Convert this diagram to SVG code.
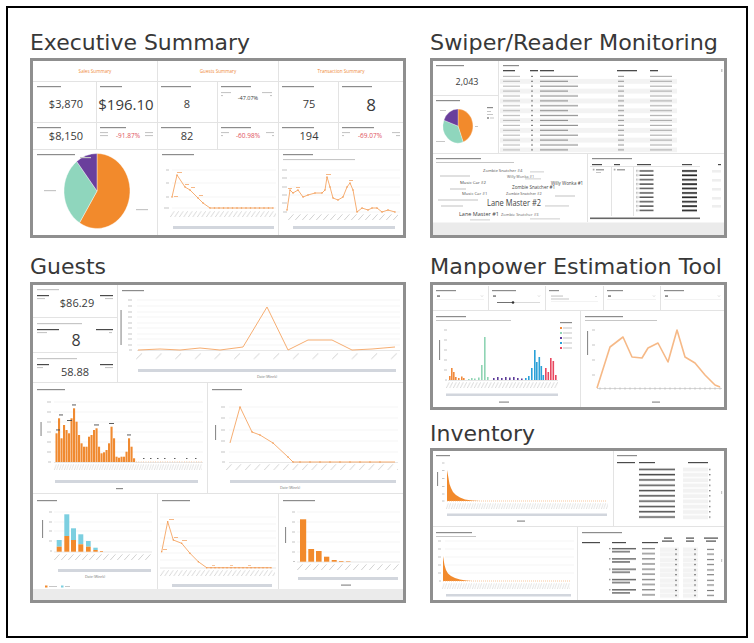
<svg xmlns="http://www.w3.org/2000/svg" width="754" height="643" viewBox="0 0 754 643">
<defs>
<style>
.title{font-family:"DejaVu Sans","Liberation Sans",sans-serif;font-size:22px;fill:#383838}
.frame{fill:#fff;stroke:#8f8f8f;stroke-width:3}
.dv{stroke:#e3e3e3;stroke-width:1;fill:none}
.t{fill:#c6c6c6}
.tl{fill:#e0e0e0}
.td{fill:#8c8c8c}
.tk{fill:#4a4a4a}
.num{font-family:"Open Sans","Liberation Sans",sans-serif;fill:#3a3a3a;text-anchor:middle}
.red{font-family:"Open Sans","Liberation Sans",sans-serif;fill:#e0535c;text-anchor:middle;font-size:6.5px}
.hdr{font-family:"Open Sans","Liberation Sans",sans-serif;font-size:4.6px;fill:#ef8a3a;text-anchor:middle}
.sm{font-family:"Open Sans","Liberation Sans",sans-serif;font-size:3.6px;fill:#777}
.ln{fill:none;stroke:#f5a563;stroke-width:0.9;stroke-linejoin:round}
.gr{stroke:#efefef;stroke-width:0.6;fill:none}
.ax{stroke:#d6d6d6;stroke-width:0.6;fill:none}
.sb{fill:#d2d6dd}
.band{fill:#ebebeb}
.o{fill:#f28a2c}
.c{fill:#7ccfe0}
.wc{font-family:"Open Sans","Liberation Sans",sans-serif}
</style>
<marker id="dt" markerUnits="userSpaceOnUse" markerWidth="3" markerHeight="3" refX="1.5" refY="1.5"><circle cx="1.5" cy="1.5" r="0.75" fill="#f39a52"/></marker>
<pattern id="s3" patternUnits="userSpaceOnUse" width="2.5" height="30"><path d="M2.2 0.3L0.3 6" stroke="#c4c4c4" stroke-width="0.5"/></pattern>
<pattern id="s4" patternUnits="userSpaceOnUse" width="3.5" height="30"><path d="M3.2 0.3L0.3 6" stroke="#bdbdbd" stroke-width="0.6"/></pattern>
<pattern id="s5" patternUnits="userSpaceOnUse" width="4.5" height="30"><path d="M4.2 0.3L0.3 6" stroke="#bdbdbd" stroke-width="0.6"/></pattern>
<pattern id="s7" patternUnits="userSpaceOnUse" width="7" height="30"><path d="M5.5 0.3L0.3 6" stroke="#bdbdbd" stroke-width="0.7"/></pattern>
<pattern id="s8" patternUnits="userSpaceOnUse" width="8" height="30"><path d="M5.5 0.3L0.3 6" stroke="#bdbdbd" stroke-width="0.7"/></pattern>
<pattern id="s10" patternUnits="userSpaceOnUse" width="9.5" height="30"><path d="M5.5 0.3L0.3 6" stroke="#bdbdbd" stroke-width="0.7"/></pattern>
<pattern id="s20" patternUnits="userSpaceOnUse" width="19.6" height="30"><path d="M6 0.3L0.3 6" stroke="#bdbdbd" stroke-width="0.7"/></pattern>
<pattern id="swr" patternUnits="userSpaceOnUse" width="177" height="9.8">
<rect y="4.9" width="177" height="4.9" fill="#f3f3f3"/>
<rect x="3" y="1.8" width="17" height="1.1" fill="#b8b8b8"/><rect x="31" y="1.8" width="2" height="1.1" fill="#777"/><rect x="40" y="1.8" width="38" height="1.1" fill="#8a8a8a"/><rect x="118" y="1.8" width="6" height="1.1" fill="#999"/><rect x="150" y="1.8" width="22" height="1.1" fill="#aaa"/>
<rect x="3" y="6.7" width="17" height="1.1" fill="#b8b8b8"/><rect x="31" y="6.7" width="2" height="1.1" fill="#777"/><rect x="40" y="6.7" width="28" height="1.1" fill="#8a8a8a"/><rect x="118" y="6.7" width="6" height="1.1" fill="#999"/><rect x="150" y="6.7" width="22" height="1.1" fill="#aaa"/>
</pattern>
<pattern id="sdt" patternUnits="userSpaceOnUse" width="136" height="4.4">
<rect x="48.5" y="1" width="1.6" height="1.6" fill="none" stroke="#999" stroke-width="0.4"/><rect x="51.5" y="1.2" width="14" height="1.4" fill="#4a4a4a"/><rect x="94" y="1.1" width="15" height="1.7" fill="#222"/>
</pattern>
<pattern id="itr" patternUnits="userSpaceOnUse" width="110" height="5.3">
<rect x="25" y="1.6" width="36" height="1.5" fill="#4d4d4d"/><rect x="69" y="0.6" width="25" height="4" fill="#f2f2f2"/><rect x="95" y="1.8" width="1.5" height="1.2" fill="#777"/>
</pattern>
<pattern id="ibr" patternUnits="userSpaceOnUse" width="146" height="10.3">
<rect x="31" y="1" width="1.5" height="1.2" fill="#888"/><rect x="34" y="1" width="24" height="1.3" fill="#555"/><rect x="34" y="4" width="18" height="1.3" fill="#555"/>
<rect x="64" y="1" width="13" height="1.2" fill="#777"/><rect x="64" y="6" width="13" height="1.2" fill="#777"/>
<rect x="82" y="0.5" width="19" height="4.3" fill="#f3f3f3"/><rect x="82" y="5.3" width="19" height="4.3" fill="#f3f3f3"/><rect x="97" y="1.8" width="2" height="1.1" fill="#777"/><rect x="97" y="6.6" width="2" height="1.1" fill="#777"/>
<rect x="105" y="0.5" width="15" height="4.3" fill="#f3f3f3"/><rect x="105" y="5.3" width="15" height="4.3" fill="#f3f3f3"/><rect x="116" y="1.8" width="2" height="1.1" fill="#777"/><rect x="116" y="6.6" width="2" height="1.1" fill="#777"/>
<rect x="129" y="1.8" width="7" height="1.1" fill="#777"/><rect x="129" y="6.6" width="7" height="1.1" fill="#777"/>
</pattern>
</defs>

<rect width="754" height="643" fill="#fff"/>
<rect x="7" y="7" width="740" height="630" fill="none" stroke="#000" stroke-width="2"/>

<!-- EXECUTIVE SUMMARY -->
<g id="executive-summary">
<text class="title" x="30" y="50" textLength="220" lengthAdjust="spacingAndGlyphs">Executive Summary</text>
<rect class="frame" x="31.5" y="59.5" width="373" height="177"/>
<path class="dv" d="M33 81.5H403M33 122.5H403M33 149.5H403M157.5 61V235M278.5 61V235M96.5 82V149M217.5 82V149M338.5 82V149"/>
<text class="hdr" x="95" y="73">Sales Summary</text>
<text class="hdr" x="218" y="73">Guests Summary</text>
<text class="hdr" x="341" y="73">Transaction Summary</text>
<g class="td">
<rect x="37" y="86" width="24" height="1.2"/><rect x="100" y="86" width="22" height="1.2"/><rect x="161" y="86" width="30" height="1.2"/><rect x="221" y="86" width="30" height="1.2"/><rect x="282" y="86" width="32" height="1.2"/><rect x="342" y="86" width="30" height="1.2"/>
<rect x="37" y="127" width="24" height="1.2"/><rect x="100" y="127" width="26" height="1.2"/><rect x="161" y="127" width="30" height="1.2"/><rect x="221" y="127" width="30" height="1.2"/><rect x="282" y="127" width="32" height="1.2"/><rect x="342" y="127" width="32" height="1.2"/>
</g>
<g class="t">
<rect x="221" y="92" width="10" height="1.1"/><rect x="221" y="95" width="2" height="1.1"/><rect x="262" y="92" width="10" height="1.1"/><rect x="270" y="95" width="2" height="1.1"/>
<rect x="100" y="132" width="8" height="1.1"/><rect x="100" y="135" width="8" height="1.1"/><rect x="145" y="132" width="8" height="1.1"/><rect x="145" y="135" width="8" height="1.1"/>
<rect x="221" y="132" width="8" height="1.1"/><rect x="221" y="135" width="2" height="1.1"/><rect x="266" y="132" width="8" height="1.1"/><rect x="272" y="135" width="2" height="1.1"/>
<rect x="342" y="132" width="8" height="1.1"/><rect x="342" y="135" width="2" height="1.1"/><rect x="392" y="132" width="8" height="1.1"/><rect x="396" y="135" width="4" height="1.1"/>
</g>
<text class="num" x="66" y="108" font-size="11">$3,870</text>
<text class="num" x="126" y="110" font-size="15">$196.10</text>
<text class="num" x="187" y="108" font-size="11">8</text>
<text class="num" x="248" y="100" font-size="5.5" fill="#555">-47.07%</text>
<text class="num" x="309" y="108" font-size="11">75</text>
<text class="num" x="371" y="111" font-size="17">8</text>
<text class="num" x="66" y="140" font-size="11">$8,150</text>
<text class="red" x="128" y="138">-91.87%</text>
<text class="num" x="187" y="140" font-size="11">82</text>
<text class="red" x="248" y="138">-60.98%</text>
<text class="num" x="309" y="140" font-size="11">194</text>
<text class="red" x="370" y="138">-69.07%</text>
<!-- pie -->
<rect class="td" x="37" y="154" width="38" height="1.2"/>
<path d="M97 191L97 153.5A33 37.5 0 1 1 79.5 222.8Z" fill="#f28a2c" stroke="#fff" stroke-width="0.4"/>
<path d="M97 191L79.5 222.8A33 37.5 0 0 1 76.7 161.4Z" fill="#8fd6bd" stroke="#fff" stroke-width="0.4"/>
<path d="M97 191L76.7 161.4A33 37.5 0 0 1 97 153.5Z" fill="#6a3f9c" stroke="#fff" stroke-width="0.4"/>
<g class="t"><rect x="80" y="157" width="11" height="1.2"/><rect x="44" y="190" width="12" height="1.2"/><rect x="136" y="209" width="12" height="1.2"/></g>
<!-- chart 2 -->
<rect class="td" x="162" y="154" width="32" height="1.2"/>
<path class="gr" d="M172 170H276M172 183H276M172 197H276M172 208H276"/>
<g class="t"><rect x="166" y="169.5" width="3" height="1"/><rect x="166" y="182.5" width="3" height="1"/><rect x="166" y="196.5" width="3" height="1"/><rect x="164" y="207.5" width="5" height="1"/></g>
<polyline class="ln" marker-start="url(#dt)" marker-mid="url(#dt)" marker-end="url(#dt)" points="172,197 177,175 185,187 190,190 198,198 203,203 210,208 214.5,208 219,208 223.5,208 228,208 232.5,208 237,208 241.5,208 246,208 250.5,208 255,208 259.5,208 264,208 268.5,208 273,208"/>
<g fill="#f6b887"><rect x="174" y="196" width="4" height="1"/><rect x="177" y="172" width="5" height="1"/><rect x="185" y="184" width="4" height="1"/><rect x="191" y="187" width="4" height="1"/><rect x="199" y="195" width="4" height="1"/></g>
<rect x="0" y="0" width="106" height="8" fill="url(#s5)" transform="translate(170,211)"/>
<rect class="sb" x="173" y="226" width="101" height="3"/>
<!-- chart 3 -->
<rect class="td" x="283" y="154" width="30" height="1.2"/>
<rect class="t" x="283" y="159" width="72" height="1.1"/>
<path class="gr" d="M290 170H400M290 178H400M290 187H400M290 195H400M290 203H400M290 212H400"/>
<g class="t"><rect x="282" y="169.5" width="5" height="1"/><rect x="282" y="177.5" width="5" height="1"/><rect x="282" y="186.5" width="5" height="1"/><rect x="282" y="194.5" width="5" height="1"/><rect x="282" y="202.5" width="5" height="1"/><rect x="283" y="211.5" width="4" height="1"/></g>
<polyline class="ln" marker-start="url(#dt)" marker-mid="url(#dt)" marker-end="url(#dt)" points="287,210 290,190 293,193 298,190 303,197 308,195 315,193 322,193 325,190 327,177 330,187 333,198 338,200 343,197 347,187 350,183 353,190 357,212 362,208 368,210 372,208 377,208 382,212 388,210 395,212"/>
<g fill="#f6b887"><rect x="288" y="188" width="4" height="1"/><rect x="326" y="174" width="5" height="1"/><rect x="349" y="180" width="4" height="1"/><rect x="296" y="187" width="4" height="1"/></g>
<rect x="0" y="0" width="110" height="8" fill="url(#s7)" transform="translate(288,214)"/>
<rect class="sb" x="293" y="226" width="102" height="3"/>
</g>

<!-- SWIPER / READER MONITORING -->
<g id="swiper-reader-monitoring">
<text class="title" x="430" y="50" textLength="288" lengthAdjust="spacingAndGlyphs">Swiper/Reader Monitoring</text>
<rect class="frame" x="431.5" y="59.5" width="294" height="177"/>
<path class="dv" d="M498.5 61V153M433 95.5H498M433 153.5H724M587.5 154V222"/>
<rect class="td" x="436" y="65" width="28" height="1.2"/>
<text class="num" x="467" y="85" font-size="9">2,043</text>
<rect class="td" x="436" y="100" width="24" height="1.2"/>
<path d="M458 126L458 109A15 17 0 0 1 463.13 141.97Z" fill="#f28a2c" stroke="#fff" stroke-width="0.3"/>
<path d="M458 126L463.13 141.97A15 17 0 0 1 443.9 120.19Z" fill="#8fd6bd" stroke="#fff" stroke-width="0.3"/>
<path d="M458 126L443.9 120.19A15 17 0 0 1 458 109Z" fill="#6a3f9c" stroke="#fff" stroke-width="0.3"/>
<g class="t"><rect x="440" y="110" width="6" height="1"/><rect x="436" y="141" width="9" height="1"/><rect x="475" y="126" width="3" height="1"/></g>
<g><rect class="td" x="487" y="107" width="6" height="1.2"/><rect class="t" x="487" y="111" width="4" height="1"/><rect class="t" x="487" y="114" width="6" height="1"/><rect class="tk" x="487" y="117.5" width="2" height="1"/><rect class="t" x="490" y="117.5" width="4" height="1"/></g>
<rect class="td" x="503" y="65" width="16" height="1.2"/>
<g class="tk"><rect x="503" y="70" width="12" height="1.3"/><rect x="530" y="70" width="8" height="1.3"/><rect x="540" y="70" width="14" height="1.3"/><rect x="617" y="70" width="20" height="1.3"/><rect x="650" y="70" width="8" height="1.3"/></g>
<rect class="t" x="721" y="69" width="1.5" height="3"/>
<rect x="0" y="0" width="177" height="78.4" fill="url(#swr)" transform="translate(500,74)"/>
<!-- word cloud -->
<rect class="td" x="436" y="158" width="45" height="1.2"/>
<rect class="t" x="436" y="162" width="78" height="1"/>
<g class="tl"><rect x="440" y="175" width="30" height="2"/><rect x="450" y="188" width="16" height="2"/><rect x="438" y="199" width="40" height="2"/><rect x="441" y="205" width="22" height="2"/><rect x="530" y="171" width="14" height="1.6"/><rect x="555" y="195" width="20" height="2"/><rect x="545" y="205" width="24" height="1.8"/><rect x="530" y="218" width="30" height="1.6"/><rect x="470" y="219" width="20" height="1.6"/><rect x="525" y="178" width="16" height="1.6"/></g>
<text class="wc" x="483" y="172" font-size="4.2" fill="#555">Zombie Snatcher #4</text>
<text class="wc" x="507" y="178" font-size="3.8" fill="#666">Willy Wonka #1</text>
<text class="wc" x="460" y="184" font-size="4.3" fill="#444">Music Car #2</text>
<text class="wc" x="551" y="184.5" font-size="4.5" fill="#444">Willy Wonka #1</text>
<text class="wc" x="512" y="189" font-size="4.6" fill="#444">Zombie Snatcher #1</text>
<text class="wc" x="462" y="195" font-size="4.2" fill="#555">Music Car #1</text>
<text class="wc" x="506" y="195" font-size="3.8" fill="#555">Zombie Snatcher #2</text>
<text class="wc" x="487" y="206" font-size="9" fill="#444" textLength="54" lengthAdjust="spacingAndGlyphs">Lane Master #2</text>
<text class="wc" x="459" y="215.5" font-size="5.5" fill="#444">Lane Master #1</text>
<text class="wc" x="501" y="215.5" font-size="4" fill="#666">Zombie Snatcher #3</text>
<!-- daily summary -->
<rect class="td" x="592" y="158" width="40" height="1.2"/>
<g class="tk"><rect x="592" y="164" width="10" height="1.2"/><rect x="614" y="164" width="6" height="1.2"/><rect x="637" y="164" width="14" height="1.2"/><rect x="682" y="164" width="10" height="1.2"/><rect x="718" y="164" width="3" height="1.2"/></g>
<path class="dv" d="M590 166.5H700" stroke-width="0.6"/>
<rect x="593" y="169" width="1.6" height="1.6" fill="none" stroke="#999" stroke-width="0.4"/><rect class="td" x="596" y="169.2" width="8" height="1.2"/><rect class="t" x="596" y="172" width="5" height="1"/>
<rect x="614" y="169" width="1.6" height="1.6" fill="none" stroke="#999" stroke-width="0.4"/><rect class="td" x="617" y="169.2" width="8" height="1.2"/>
<path class="dv" d="M611.5 167V216M633.5 167V216" stroke-width="0.5"/>
<rect x="0" y="0" width="136" height="44" fill="url(#sdt)" transform="translate(588,169)"/>
<g fill="#eeeeee"><rect x="712" y="170" width="9" height="2.6"/><rect x="712" y="179" width="9" height="2.6"/><rect x="712" y="188" width="9" height="2.6"/><rect x="712" y="197" width="9" height="2.6"/><rect x="712" y="205" width="9" height="2.6"/></g>
<rect x="590" y="217.5" width="110" height="1.6" fill="#666"/>
<rect class="band" x="433" y="222.5" width="291" height="12.5"/>
</g>

<!-- GUESTS -->
<g id="guests">
<text class="title" x="30" y="274" textLength="76" lengthAdjust="spacingAndGlyphs">Guests</text>
<rect class="frame" x="31.5" y="283.5" width="373" height="318"/>
<path class="dv" d="M117.5 285V382M33 317.5H117M33 352.5H117M33 382.5H403M207.5 383V493M33 493.5H403M157.5 494V589M278.5 494V589"/>
<!-- KPIs -->
<rect class="t" x="37" y="289" width="22" height="1.2"/>
<rect class="tk" x="37" y="295" width="12" height="1.2"/><rect class="t" x="37" y="298" width="8" height="1.1"/>
<rect class="tk" x="100" y="295" width="13" height="1.2"/><rect class="t" x="105" y="298" width="8" height="1.1"/>
<text class="num" x="77" y="307" font-size="11">$86.29</text>
<rect class="t" x="37" y="323" width="45" height="1.2"/>
<rect class="tk" x="37" y="329" width="22" height="1.2"/><rect class="t" x="37" y="332" width="10" height="1.1"/>
<rect class="tk" x="96" y="329" width="17" height="1.2"/><rect class="t" x="109" y="332" width="3" height="1.1"/>
<text class="num" x="76" y="346" font-size="16">8</text>
<rect class="t" x="37" y="358" width="40" height="1.2"/>
<rect class="tk" x="37" y="364" width="12" height="1.2"/><rect class="t" x="37" y="367" width="6" height="1.1"/>
<rect class="tk" x="100" y="364" width="13" height="1.2"/><rect class="t" x="105" y="367" width="8" height="1.1"/>
<text class="num" x="75" y="376" font-size="11">58.88</text>
<!-- average spend -->
<rect class="td" x="122" y="290" width="22" height="1.2"/>
<path class="gr" d="M137 300H400M137 306H400M137 312H400M137 317H400M137 323H400M137 328H400M137 334H400M137 339H400M137 345H400"/>
<path class="ax" d="M137 350.5H400"/>
<g class="t"><rect x="128" y="299.5" width="4" height="1"/><rect x="128" y="305.5" width="4" height="1"/><rect x="128" y="311.5" width="4" height="1"/><rect x="128" y="316.5" width="4" height="1"/><rect x="128" y="322.5" width="4" height="1"/><rect x="128" y="327.5" width="4" height="1"/><rect x="128" y="333.5" width="4" height="1"/><rect x="128" y="338.5" width="4" height="1"/><rect x="128" y="344.5" width="4" height="1"/><rect x="129" y="349.5" width="3" height="1"/></g>
<rect class="td" x="120.5" y="310" width="1.1" height="35"/>
<polyline class="ln" points="138,350 160,349 180,350 200,348 220,350 243,347 267,307 288,350 308,340 332,340 352,350 372,349 395,347" stroke-width="1"/>
<rect x="0" y="0" width="262" height="8" fill="url(#s20)" transform="translate(136,353)"/>
<rect class="sb" x="138" y="369" width="258" height="3"/>
<text class="sm" x="267" y="378" text-anchor="middle">Date (Week)</text>
<!-- attendance tracker -->
<rect class="td" x="37" y="389" width="28" height="1.2"/>
<path class="gr" d="M54 402H203M54 412H203M54 422H203M54 432H203M54 442H203M54 452H203"/>
<path class="ax" d="M54 462.5H203"/>
<g class="t"><rect x="47" y="401.5" width="4" height="1"/><rect x="47" y="411.5" width="4" height="1"/><rect x="47" y="421.5" width="4" height="1"/><rect x="47" y="431.5" width="4" height="1"/><rect x="47" y="441.5" width="4" height="1"/><rect x="47" y="451.5" width="4" height="1"/><rect x="48" y="461.5" width="3" height="1"/></g>
<rect class="td" x="40.5" y="422" width="1.1" height="14"/>
<g fill="#f08a30">
<rect x="55.5" y="433.3" width="2.1" height="28.7"/><rect x="58" y="418.3" width="2.1" height="43.7"/><rect x="60.5" y="438.3" width="2.1" height="23.7"/><rect x="63" y="425" width="2.1" height="37"/><rect x="65.5" y="430" width="2.1" height="32"/><rect x="68" y="433.3" width="2.1" height="28.7"/><rect x="70.5" y="418.3" width="2.1" height="43.7"/><rect x="73" y="408.3" width="2.1" height="53.7"/><rect x="75.5" y="421.7" width="2.1" height="40.3"/><rect x="78" y="435" width="2.1" height="27"/><rect x="80.5" y="443.3" width="2.1" height="18.7"/><rect x="83" y="446.7" width="2.1" height="15.3"/><rect x="85.5" y="446.7" width="2.1" height="15.3"/><rect x="88" y="436.7" width="2.1" height="25.3"/><rect x="90.5" y="435" width="2.1" height="27"/><rect x="93" y="430" width="2.1" height="32"/><rect x="95.5" y="428.3" width="2.1" height="33.7"/><rect x="98" y="446.7" width="2.1" height="15.3"/><rect x="100.5" y="453.3" width="2.1" height="8.7"/><rect x="103" y="452.3" width="2.1" height="9.7"/><rect x="105.5" y="450" width="2.1" height="12"/><rect x="108" y="443.3" width="2.1" height="18.7"/><rect x="110.5" y="426.7" width="2.1" height="35.3"/><rect x="113" y="438.3" width="2.1" height="23.7"/><rect x="115.5" y="456.7" width="2.1" height="5.3"/><rect x="118" y="457.7" width="2.1" height="4.3"/><rect x="120.5" y="456.7" width="2.1" height="5.3"/><rect x="123" y="456.7" width="2.1" height="5.3"/><rect x="125.5" y="451.7" width="2.1" height="10.3"/><rect x="128" y="438.3" width="2.1" height="23.7"/><rect x="130.5" y="446.7" width="2.1" height="15.3"/><rect x="133" y="458.3" width="2.1" height="3.7"/>
</g>
<g class="tk"><rect x="56" y="429.5" width="4" height="0.9"/><rect x="59" y="414.5" width="4" height="0.9"/><rect x="72" y="404.5" width="4" height="0.9"/><rect x="67" y="420" width="5" height="0.9"/><rect x="94" y="424.5" width="5" height="0.9"/><rect x="109" y="423" width="5" height="0.9"/><rect x="127" y="434.5" width="4" height="0.9"/></g>
<path d="M136 461.8H202" stroke="#f5a563" stroke-width="0.6" stroke-dasharray="0.8 1.6"/>
<g class="tk"><rect x="143" y="458" width="1.5" height="0.9"/><rect x="150" y="458" width="1.5" height="0.9"/><rect x="157" y="458" width="1.5" height="0.9"/><rect x="164" y="458" width="1.5" height="0.9"/><rect x="174" y="458" width="1.5" height="0.9"/><rect x="186" y="458" width="1.5" height="0.9"/><rect x="195" y="458" width="1.5" height="0.9"/></g>
<rect x="0" y="0" width="148" height="8" fill="url(#s3)" transform="translate(54,464)"/>
<rect class="sb" x="55" y="480" width="143" height="3"/>
<rect class="td" x="116" y="488" width="7" height="1.2"/>
<!-- total cards purchased -->
<rect class="td" x="212" y="389" width="30" height="1.2"/>
<path class="gr" d="M229 407H398M229 418H398M229 430H398M229 441H398M229 452H398"/>
<path class="ax" d="M229 462.5H398"/>
<g class="t"><rect x="221" y="406.5" width="4" height="1"/><rect x="221" y="417.5" width="4" height="1"/><rect x="221" y="429.5" width="4" height="1"/><rect x="221" y="440.5" width="4" height="1"/><rect x="221" y="451.5" width="4" height="1"/><rect x="222" y="461.5" width="3" height="1"/></g>
<rect class="td" x="215" y="425" width="1.1" height="15"/>
<polyline class="ln" marker-mid="url(#dt)" points="230,443 240,407 252,432 260,435 273,443 288,457 293,462 300,462 310,462 320,462 330,462 340,462 350,462 360,462 370,462 380,462 395,462" stroke-width="1"/>
<rect x="0" y="0" width="172" height="8" fill="url(#s10)" transform="translate(226,464)"/>
<rect class="sb" x="230" y="480" width="166" height="3"/>
<text class="sm" x="290" y="489" text-anchor="middle">Date (Week)</text>
<!-- active guests -->
<rect class="td" x="37" y="500" width="20" height="1.2"/>
<path class="gr" d="M54 512H152M54 522H152M54 531H152M54 541H152"/>
<path class="ax" d="M54 552H152"/>
<g class="t"><rect x="49" y="511.5" width="3" height="1"/><rect x="49" y="521.5" width="3" height="1"/><rect x="49" y="530.5" width="3" height="1"/><rect x="49" y="540.5" width="3" height="1"/><rect x="50" y="550.5" width="2" height="1"/></g>
<rect class="td" x="42" y="520" width="1.1" height="18"/>
<g class="c"><rect x="56.7" y="540" width="5" height="6.7"/><rect x="64.3" y="514.3" width="5" height="21.7"/><rect x="71" y="528.3" width="5" height="11.7"/><rect x="78.3" y="534.3" width="5" height="10"/><rect x="86" y="541" width="4.7" height="5.7"/><rect x="93.3" y="547.7" width="4.4" height="2.3"/></g>
<g class="o"><rect x="56.7" y="546.7" width="5" height="5"/><rect x="64.3" y="536" width="5" height="15.7"/><rect x="71" y="540" width="5" height="11.7"/><rect x="78.3" y="544.3" width="5" height="7.4"/><rect x="86" y="546.7" width="4.7" height="5"/><rect x="93.3" y="550" width="4.4" height="1.7"/><rect x="100" y="551" width="3" height="0.7"/></g>
<rect x="0" y="0" width="98" height="8" fill="url(#s7)" transform="translate(54,554)"/>
<rect class="sb" x="58" y="569" width="93" height="3"/>
<text class="sm" x="95" y="578" text-anchor="middle">Date (Week)</text>
<rect class="o" x="45" y="585.5" width="2.5" height="2"/><rect class="t" x="49" y="586" width="8" height="1"/>
<rect class="c" x="61" y="585.5" width="2.5" height="2"/><rect class="t" x="65" y="586" width="5" height="1"/>
<!-- active guests forecast -->
<rect class="td" x="162" y="500" width="28" height="1.2"/>
<path class="gr" d="M160 517H276M160 524H276M160 531H276M160 538H276M160 546H276M160 553H276M160 560H276"/>
<path class="ax" d="M160 568H276"/>
<polyline class="ln" marker-start="url(#dt)" marker-mid="url(#dt)" marker-end="url(#dt)" points="161.7,551.7 167.7,521.7 173.3,540 181.7,543.3 190,553.3 198.3,561.7 206.7,567.7 211,567.7 215,567.7 219,567.7 223,567.7 227,567.7 231,567.7 235,567.7 239,567.7 243,567.7 247,567.7 251,567.7 255,567.7 259,567.7 263,567.7 267,567.7 271,567.7"/>
<g fill="#f6b887"><rect x="163" y="549" width="4" height="1"/><rect x="169" y="519" width="5" height="1"/><rect x="174" y="537" width="4" height="1"/><rect x="182" y="540" width="5" height="1"/><rect x="212" y="565" width="3" height="0.8"/><rect x="230" y="565" width="3" height="0.8"/><rect x="248" y="565" width="3" height="0.8"/></g>
<rect x="0" y="0" width="115" height="8" fill="url(#s5)" transform="translate(160,570)"/>
<rect class="sb" x="172" y="584" width="100" height="3"/>
<!-- unique cards -->
<rect class="td" x="283" y="500" width="32" height="1.2"/>
<path class="gr" d="M297 512H400M297 522H400M297 532H400M297 542H400M297 552H400"/>
<path class="ax" d="M297 562H400"/>
<g class="t"><rect x="292" y="511.5" width="3" height="1"/><rect x="292" y="521.5" width="3" height="1"/><rect x="292" y="531.5" width="3" height="1"/><rect x="292" y="541.5" width="3" height="1"/><rect x="292" y="551.5" width="3" height="1"/><rect x="293" y="561" width="2" height="1"/></g>
<rect class="td" x="285" y="527" width="1.1" height="16"/>
<g class="o"><rect x="300" y="519.3" width="6.2" height="42.4"/><rect x="308.3" y="549" width="5.8" height="12.7"/><rect x="316" y="551" width="5.6" height="10.7"/><rect x="324" y="556.7" width="5.3" height="5"/><rect x="331.7" y="560" width="5" height="1.7"/><rect x="339" y="561" width="4.5" height="0.7"/><rect x="346" y="561.2" width="4.5" height="0.5"/></g>
<rect x="0" y="0" width="103" height="8" fill="url(#s8)" transform="translate(297,564)"/>
<rect class="sb" x="298" y="577" width="100" height="3"/>
<rect class="td" x="341" y="584.5" width="10" height="1.2"/>
<rect class="band" x="33" y="589" width="370" height="11"/>
</g>

<!-- MANPOWER ESTIMATION TOOL -->
<g id="manpower-estimation-tool">
<text class="title" x="430" y="274" textLength="292" lengthAdjust="spacingAndGlyphs">Manpower Estimation Tool</text>
<rect class="frame" x="431.5" y="283.5" width="294" height="125"/>
<path class="dv" d="M433 310.5H724M488.5 286V310M545.5 286V310M603.5 286V310M660.5 286V310M580.5 311V407"/>
<g class="td"><rect x="436" y="290" width="20" height="1.2"/><rect x="492" y="290" width="24" height="1.2"/><rect x="549" y="290" width="10" height="1.2"/><rect x="607" y="290" width="16" height="1.2"/><rect x="664" y="290" width="20" height="1.2"/></g>
<g class="tk"><rect x="437" y="295.5" width="3" height="1.1"/><rect x="493" y="295.5" width="3" height="1.1"/><rect x="608" y="295.5" width="3" height="1.1"/><rect x="665" y="295.5" width="3" height="1.1"/></g>
<g class="t"><rect x="551" y="295.5" width="12" height="1.1"/><rect x="551" y="298.5" width="18" height="1"/></g>
<path d="M436 299.5H484M551 301.5H598M607 299.5H656M664 299.5H721" stroke="#e6e6e6" stroke-width="0.5"/>
<path d="M481 295.5l1 1 1-1M538 295.5l1 1 1-1M595 296l1 1 1-1M653 295.5l1 1 1-1M718 295.5l1 1 1-1" fill="none" stroke="#999" stroke-width="0.4"/>
<path d="M497 302.5H540" stroke="#d0d0d0" stroke-width="0.8"/><path d="M497 302.5H513" stroke="#555" stroke-width="0.8"/><circle cx="513" cy="302.5" r="1.3" fill="#333"/>
<!-- left chart -->
<rect class="td" x="436" y="316" width="30" height="1.2"/><rect class="t" x="436" y="320" width="75" height="1"/>
<g class="t"><rect x="444" y="329.5" width="3" height="1"/><rect x="444" y="339.5" width="3" height="1"/><rect x="444" y="349.5" width="3" height="1"/><rect x="444" y="359.5" width="3" height="1"/><rect x="444" y="369.5" width="3" height="1"/><rect x="445" y="379.5" width="2" height="1"/></g>
<rect class="td" x="439" y="340" width="1.1" height="20"/>
<path class="ax" d="M448 380.5H558"/>
<g fill="#f08a3c"><rect x="449" y="376" width="1.6" height="4"/><rect x="451" y="368" width="1.6" height="12"/><rect x="453" y="372" width="1.6" height="8"/><rect x="455" y="377" width="1.6" height="3"/><rect x="458" y="378" width="1.6" height="2"/><rect x="461" y="376.5" width="1.6" height="3.5"/><rect x="463" y="378" width="1.6" height="2"/></g>
<g fill="#8fd4b4"><rect x="468" y="379" width="1.6" height="1"/><rect x="471" y="378" width="1.6" height="2"/><rect x="474" y="378.5" width="1.6" height="1.5"/><rect x="478" y="377.5" width="1.6" height="2.5"/><rect x="481" y="365" width="1.6" height="15"/><rect x="484" y="337" width="1.6" height="43"/><rect x="487" y="377" width="1.6" height="3"/></g>
<g fill="#5e3c99"><rect x="493" y="378" width="1.6" height="2"/><rect x="497" y="377" width="1.6" height="3"/><rect x="501" y="378" width="1.6" height="2"/><rect x="505" y="377" width="1.6" height="3"/><rect x="509" y="377.5" width="1.6" height="2.5"/><rect x="513" y="377" width="1.6" height="3"/><rect x="517" y="378" width="1.6" height="2"/><rect x="521" y="378.5" width="1.6" height="1.5"/></g>
<g fill="#2aa1d8"><rect x="525" y="378" width="1.6" height="2"/><rect x="528" y="376" width="1.6" height="4"/><rect x="531" y="368" width="1.6" height="12"/><rect x="534" y="350" width="1.6" height="30"/><rect x="536" y="362" width="1.6" height="18"/><rect x="538.5" y="357" width="1.6" height="23"/><rect x="540.5" y="366" width="1.6" height="14"/><rect x="542.5" y="375" width="1.6" height="5"/></g>
<g fill="#e8475f"><rect x="545" y="368" width="1.6" height="12"/><rect x="547.5" y="372" width="1.6" height="8"/><rect x="550" y="358" width="1.6" height="22"/><rect x="552.5" y="361" width="1.6" height="19"/><rect x="555" y="375" width="1.6" height="5"/></g>
<rect class="td" x="560" y="322" width="12" height="1.2"/>
<rect x="560" y="327" width="2" height="2" fill="#f08a3c"/><rect class="t" x="563" y="327.5" width="9" height="1"/>
<rect x="560" y="332" width="2" height="2" fill="#8fd4b4"/><rect class="t" x="563" y="332.5" width="9" height="1"/>
<rect x="560" y="337" width="2" height="2" fill="#5e3c99"/><rect class="t" x="563" y="337.5" width="9" height="1"/>
<rect x="560" y="342" width="2" height="2" fill="#2aa1d8"/><rect class="t" x="563" y="342.5" width="9" height="1"/>
<rect x="560" y="347" width="2" height="2" fill="#e8475f"/><rect class="t" x="563" y="347.5" width="9" height="1"/>
<rect x="0" y="0" width="112" height="7" fill="url(#s4)" transform="translate(446,382)"/>
<rect class="sb" x="446" y="393.5" width="112" height="2.5"/>
<rect class="td" x="499" y="401.5" width="10" height="1.2"/>
<!-- right chart -->
<rect class="td" x="585" y="316" width="38" height="1.2"/><rect class="t" x="585" y="320" width="72" height="1"/>
<g class="t"><rect x="592" y="329.5" width="3" height="1"/><rect x="592" y="344.5" width="3" height="1"/><rect x="592" y="359.5" width="3" height="1"/><rect x="592" y="374.5" width="3" height="1"/></g>
<rect class="td" x="587" y="331" width="1.1" height="24"/>
<path d="M597 388.5H722" stroke="#bbb" stroke-width="0.6"/>
<path d="M600 387v3M605 387v3M610 387v3M615 387v3M620 387v3M625 387v3M630 387v3M635 387v3M640 387v3M645 387v3M650 387v3M655 387v3M660 387v3M665 387v3M670 387v3M675 387v3M680 387v3M685 387v3M690 387v3M695 387v3M700 387v3M705 387v3M710 387v3M715 387v3M720 387v3" stroke="#aaa" stroke-width="0.4"/>
<polyline points="597,388 610,347 623,337 632,357 642,358 648,348 658,343 668,362 677,330 685,357 695,363 705,375 715,385 720,387" fill="none" stroke="#f6b987" stroke-width="1.6" stroke-linejoin="round"/>
<rect class="td" x="652" y="401.5" width="8" height="1.2"/>
</g>

<!-- INVENTORY -->
<g id="inventory">
<text class="title" x="430" y="441" textLength="105" lengthAdjust="spacingAndGlyphs">Inventory</text>
<rect class="frame" x="431.5" y="449.5" width="294" height="152"/>
<path class="dv" d="M433 526.5H724M613.5 451V526M577.5 527V600"/>
<!-- top chart -->
<rect class="td" x="436" y="455" width="14" height="1.2"/>
<g class="t"><rect x="442" y="462.5" width="2.5" height="1"/><rect x="442" y="470" width="2.5" height="1"/><rect x="442" y="478" width="2.5" height="1"/><rect x="442" y="486" width="2.5" height="1"/><rect x="442" y="493.5" width="2.5" height="1"/><rect x="442" y="500.5" width="2.5" height="1"/></g>
<rect class="td" x="437" y="472" width="1.1" height="14"/>
<path d="M447 501L447 470L448.5 478L449.5 484L451 488L453 492L456 495L460 497.5L465 499.5L472 500.5L480 501Z" fill="#f28a2c"/>
<path d="M447 501H607" stroke="#f5a563" stroke-width="0.8" stroke-dasharray="0.8 1.2"/>
<rect x="0" y="0" width="162" height="8" fill="url(#s3)" transform="translate(446,503)"/>
<rect class="sb" x="447" y="513.5" width="160" height="2.5"/>
<rect class="td" x="517" y="520.5" width="8" height="1.2"/>
<!-- top table -->
<rect class="td" x="617" y="455" width="20" height="1.2"/>
<g class="tk"><rect x="617" y="462" width="18" height="1.2"/><rect x="639" y="462" width="16" height="1.2"/><rect x="688" y="462" width="20" height="1.2"/></g>
<rect x="0" y="0" width="110" height="53" fill="url(#itr)" transform="translate(614,467)"/>
<rect class="t" x="721" y="491" width="1.2" height="3"/>
<!-- bottom chart -->
<rect class="td" x="436" y="532" width="36" height="1.2"/><rect class="t" x="436" y="536" width="40" height="1"/>
<path class="gr" d="M445 541H574M445 549H574M445 557H574M445 565H574M445 573H574"/>
<g class="t"><rect x="438" y="540.5" width="3" height="1"/><rect x="438" y="548.5" width="3" height="1"/><rect x="438" y="556.5" width="3" height="1"/><rect x="438" y="564.5" width="3" height="1"/><rect x="438" y="572.5" width="3" height="1"/><rect x="439" y="580.5" width="2" height="1"/></g>
<path d="M443 581L443 556L444.5 565L446 570L448 573.5L451 576L455 578L460 579.5L466 580.5L472 581Z" fill="#f28a2c"/>
<path d="M443 581H570" stroke="#f5a563" stroke-width="0.8" stroke-dasharray="0.8 1.2"/>
<rect x="0" y="0" width="128" height="7" fill="url(#s3)" transform="translate(442,583)"/>
<rect class="sb" x="446" y="594" width="125" height="2.5"/>
<!-- bottom table -->
<rect class="td" x="582" y="532" width="40" height="1.2"/>
<g class="tk"><rect x="582" y="542" width="18" height="1.2"/><rect x="612" y="542" width="14" height="1.2"/><rect x="642" y="542" width="16" height="1.2"/><rect x="664" y="537.5" width="8" height="1.2"/><rect x="662" y="540.5" width="12" height="1.2"/><rect x="686" y="537.5" width="8" height="1.2"/><rect x="686" y="540.5" width="8" height="1.2"/><rect x="704" y="537.5" width="14" height="1.2"/><rect x="706" y="540.5" width="10" height="1.2"/></g>
<rect x="0" y="0" width="146" height="51.5" fill="url(#ibr)" transform="translate(578,547)"/>
<rect class="t" x="721" y="559" width="1.2" height="3"/>
</g>
</svg>
